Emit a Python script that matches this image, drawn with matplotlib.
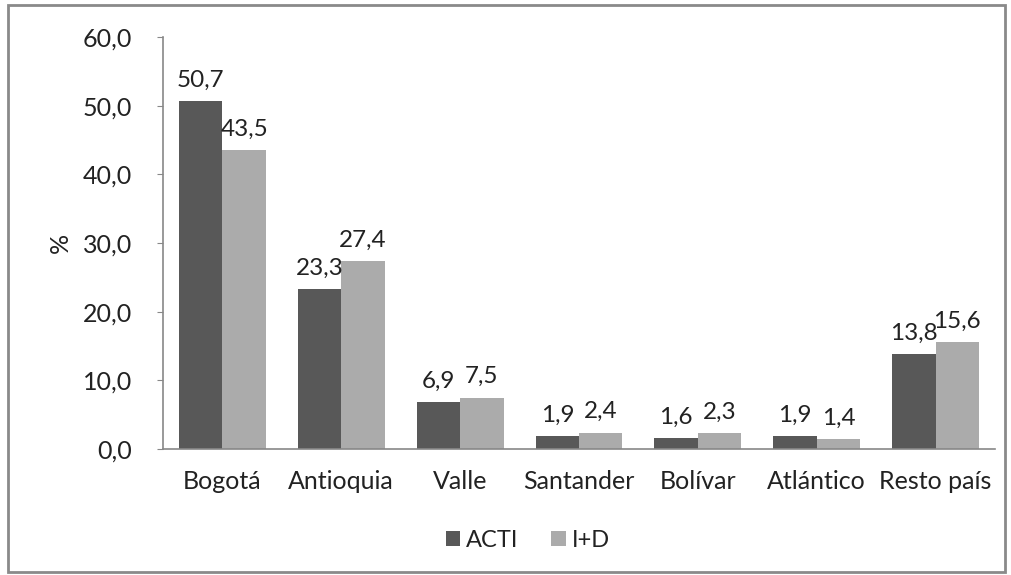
import numpy as np
import matplotlib.pyplot as plt
from matplotlib.patches import Rectangle

plt.rcParams['font.family'] = ['Lato', 'DejaVu Sans']

departamentos = ["Bogotá", "Antioquia", "Valle", "Santander", "Bolívar", "Atlántico", "Resto país"]
acti = [50.7, 23.3, 6.9, 1.9, 1.6, 1.9, 13.8]
imas_d = [43.5, 27.4, 7.5, 2.4, 2.3, 1.4, 15.6]
yticks = [0, 10, 20, 30, 40, 50, 60]

def coma(v):
    return f"{v:.1f}".replace(".", ",")

fig = plt.figure(figsize=(10.11, 5.75), dpi=100)
ax = fig.add_axes([0.1612, 0.219, 0.823, 0.7167])

x = np.arange(len(departamentos))
w = 0.365
b1 = ax.bar(x - w / 2, acti, w, color="#585858", label="ACTI")
b2 = ax.bar(x + w / 2, imas_d, w, color="#ababab", label="I+D")

for bars, vals in ((b1, acti), (b2, imas_d)):
    for r, v in zip(bars, vals):
        ax.annotate(coma(v), (r.get_x() + r.get_width() / 2, v), xytext=(0, 15),
                    textcoords="offset points", ha="center", va="center",
                    fontsize=17.5, color="#222222")

ax.set_xlim(-0.5, len(departamentos) - 0.5)
ax.set_ylim(0, 60)
ax.set_yticks(yticks)
ax.set_yticklabels([coma(t) for t in yticks], fontsize=18, color="#222222")
ax.set_xticks(x)
ax.set_xticklabels(departamentos, fontsize=18, color="#222222")
ax.tick_params(axis="x", length=0, pad=15)
ax.tick_params(axis="y", length=4, pad=18, color="#888888")
ax.set_ylabel("%", fontsize=18, color="#222222", labelpad=8)

for s in ("top", "right"):
    ax.spines[s].set_visible(False)
for s in ("left", "bottom"):
    ax.spines[s].set_color("#888888")
    ax.spines[s].set_linewidth(1.2)

fig.legend(loc="center", bbox_to_anchor=(0.522, 0.06), ncol=2, frameon=False,
           fontsize=17, handlelength=0.6, handleheight=0.6, handletextpad=0.25,
           columnspacing=1.4, labelcolor="#222222")

fig.patches.append(Rectangle((8 / 1011, 3 / 575), 997 / 1011, 567 / 575,
                             transform=fig.transFigure, fill=False,
                             edgecolor="#8a8a8a", linewidth=2))

fig.savefig("out.png", dpi=100)
